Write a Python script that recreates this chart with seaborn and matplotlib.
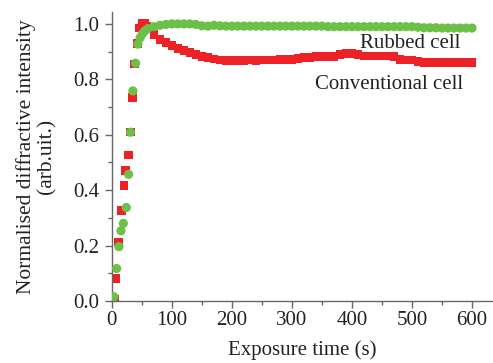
import numpy as np
import pandas as pd
import matplotlib
matplotlib.use("Agg")
import matplotlib.pyplot as plt
import seaborn as sns

# Conventional cell (red squares)
conv_t = [4, 6, 11.5, 15.5, 20, 23, 27.5, 31.5, 34, 38, 42, 46, 50, 54, 58,
          60, 70, 80, 90, 100, 110, 120, 130, 140, 150, 160, 170, 180, 190, 200,
          210, 220, 230, 240, 250, 260, 270, 280, 290, 300, 310, 320, 330, 340,
          350, 360, 370, 380, 390, 400, 410, 420, 430, 440, 450, 460, 470, 480,
          490, 500, 510, 520, 530, 540, 550, 560, 570, 580, 590, 600]
conv_v = [0.005, 0.08, 0.213, 0.326, 0.418, 0.47, 0.527, 0.61, 0.735, 0.855, 0.93,
          0.985, 1.0, 1.0, 0.99,
          0.985, 0.962, 0.945, 0.932, 0.922, 0.912, 0.905, 0.897, 0.89, 0.883,
          0.878, 0.873, 0.87, 0.868, 0.868, 0.868, 0.868, 0.87, 0.868, 0.87,
          0.87, 0.87, 0.872, 0.872, 0.872, 0.876, 0.88, 0.88, 0.882, 0.882,
          0.882, 0.882, 0.89, 0.892, 0.892, 0.89, 0.884, 0.884, 0.884, 0.884,
          0.884, 0.882, 0.872, 0.87, 0.87, 0.865, 0.862, 0.862, 0.86, 0.862,
          0.86, 0.86, 0.86, 0.86, 0.86]

# Rubbed cell (green circles)
rub_t = [3.3, 7.8, 11.7, 15, 19, 24, 27.8, 31, 35, 39.4, 43.3, 47, 51, 55,
         60, 70, 80, 90, 100, 110, 120, 130, 140, 150, 160, 170, 180, 190, 200,
         210, 220, 230, 240, 250, 260, 270, 280, 290, 300, 310, 320, 330, 340,
         350, 360, 370, 380, 390, 400, 410, 420, 430, 440, 450, 460, 470, 480,
         490, 500, 510, 520, 530, 540, 550, 560, 570, 580, 590, 600]
rub_v = [0.015, 0.117, 0.196, 0.253, 0.28, 0.337, 0.457, 0.609, 0.758, 0.858,
         0.927, 0.95, 0.965, 0.975,
         0.983, 0.99, 0.995, 0.998, 1.0, 1.0, 1.0, 1.0, 0.998, 0.993, 0.992,
         0.995, 0.993, 0.992, 0.992, 0.992, 0.992, 0.992, 0.992, 0.992, 0.992,
         0.992, 0.992, 0.992, 0.992, 0.992, 0.992, 0.992, 0.992, 0.992, 0.99,
         0.99, 0.99, 0.99, 0.99, 0.99, 0.99, 0.99, 0.99, 0.99, 0.99, 0.99,
         0.99, 0.99, 0.99, 0.988, 0.986, 0.986, 0.986, 0.985, 0.985, 0.985,
         0.985, 0.985, 0.985]

x_ticks = [0, 100, 200, 300, 400, 500, 600]
y_ticks = [0.0, 0.2, 0.4, 0.6, 0.8, 1.0]

sns.set_style("ticks")
plt.rcParams['font.family'] = ['Liberation Serif', 'DejaVu Serif']

FS = 15
fig = plt.figure(figsize=(4.93, 3.63), dpi=100)
ax = fig.add_axes([0.227, 0.171, 0.773, 0.796])

conv = pd.DataFrame({"t": conv_t, "v": conv_v})
rub = pd.DataFrame({"t": rub_t, "v": rub_v})

red = "#ee2226"
green = "#6cbf47"
sns.scatterplot(data=conv, x="t", y="v", ax=ax, marker="s", s=40, color=red,
                edgecolor="none", linewidth=0, zorder=2)
sns.scatterplot(data=rub, x="t", y="v", ax=ax, marker="o", s=44, color=green,
                edgecolor="none", linewidth=0, zorder=3)

ax.set_xlim(0, 635)
ax.set_ylim(0, 1.043)
ax.set_xticks(x_ticks)
ax.set_yticks(y_ticks)
ax.set_xticklabels([str(v) for v in x_ticks])
ax.set_yticklabels([f"{v:.1f}" for v in y_ticks])
ax.set_xticks(np.arange(50, 650, 100), minor=True)
ax.set_yticks(np.arange(0.1, 1.05, 0.2), minor=True)

for s in ["top", "right"]:
    ax.spines[s].set_visible(False)
for s in ["left", "bottom"]:
    ax.spines[s].set_color("#666666")
    ax.spines[s].set_linewidth(1.0)
ax.tick_params(which="major", direction="out", length=5, width=1.0,
               color="#666666", labelsize=FS, labelcolor="#222222")
ax.tick_params(axis="y", which="major", pad=4)
ax.tick_params(axis="x", which="major", pad=2)
ax.tick_params(which="minor", direction="out", length=3, width=1.0,
               color="#666666")

ax.set_xlabel("Exposure time (s)", fontsize=FS, color="#222222", labelpad=8)
ax.set_ylabel("Normalised diffractive intensity\n(arb.uit.)", fontsize=15.5,
              color="#222222", labelpad=12, linespacing=1.1)

ax.text(413, 0.928, "Rubbed cell", fontsize=FS, color="#222222",
        ha="left", va="center")
ax.text(338, 0.783, "Conventional cell", fontsize=FS, color="#222222",
        ha="left", va="center")

fig.savefig("out.png", dpi=100)
